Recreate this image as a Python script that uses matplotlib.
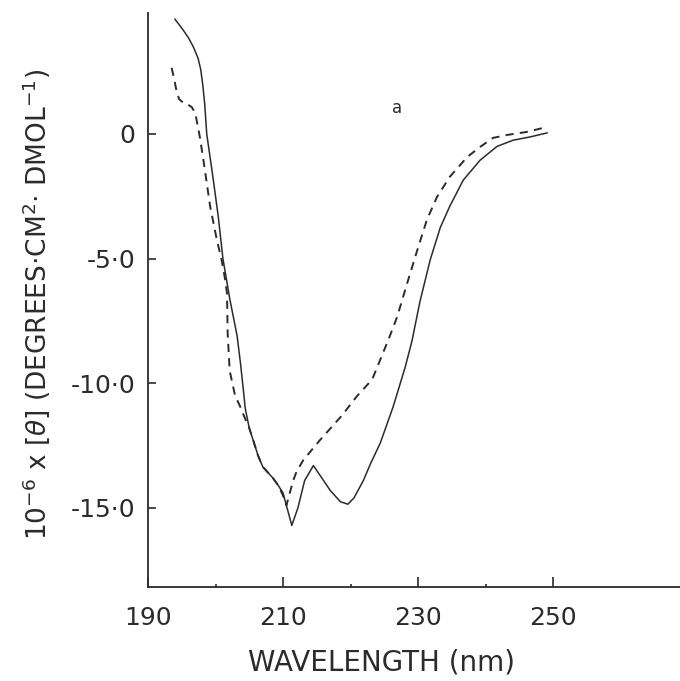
import matplotlib
matplotlib.use("Agg")
import matplotlib.pyplot as plt

# Solid curve
solid_x = [194.0, 195.2, 196.0, 196.7, 197.4, 197.8, 198.1, 198.4, 198.7, 199.6,
           200.4, 201.1, 202.1, 203.2, 203.7, 204.1, 204.4, 205.0, 205.6, 206.3,
           207.0, 208.5, 209.3, 210.0, 210.6, 211.3, 212.2, 213.2, 214.5, 215.5,
           217.0, 218.5, 219.6, 220.5, 221.9, 223.0, 224.4, 226.3, 228.1, 229.1,
           230.3, 231.8, 233.3, 234.7, 236.7, 239.2, 241.7, 244.1, 246.6, 249.1]
solid_y = [4.6, 4.17, 3.85, 3.5, 3.05, 2.6, 2.0, 1.2, 0.0, -1.7,
           -3.3, -5.0, -6.6, -8.1, -9.2, -10.2, -11.0, -11.8, -12.3, -12.9,
           -13.35, -13.8, -14.1, -14.4, -15.0, -15.7, -15.0, -13.9, -13.3, -13.7,
           -14.3, -14.75, -14.85, -14.6, -13.9, -13.2, -12.4, -10.95, -9.35, -8.3,
           -6.7, -5.05, -3.75, -2.9, -1.85, -1.05, -0.5, -0.25, -0.12, 0.04]

# Dashed curve
dash_x = [193.5, 193.8, 194.2, 194.6, 195.0, 195.8, 196.5, 197.0, 197.7, 198.4,
          199.2, 200.2, 200.9, 201.4, 201.7, 201.8, 202.1, 202.9, 203.6, 204.2,
          205.0, 205.6, 206.3, 207.0, 208.5, 209.3, 210.0, 210.5, 211.0, 211.5,
          212.0, 213.0, 215.5, 218.7, 221.0, 223.2, 225.6, 226.9, 228.4, 229.9,
          231.3, 232.8, 234.7, 237.3, 239.2, 241.1, 243.2, 246.1, 248.5]
dash_y = [2.65, 2.3, 1.76, 1.4, 1.3, 1.2, 1.07, 0.84, -0.15, -1.4,
          -2.9, -4.25, -5.05, -5.8, -6.4, -8.0, -9.5, -10.5, -10.9, -11.3,
          -11.8, -12.3, -12.9, -13.35, -13.8, -14.1, -14.5, -14.9, -14.4, -13.9,
          -13.55, -13.08, -12.27, -11.3, -10.5, -9.85, -8.26, -7.34, -5.98, -4.65,
          -3.45, -2.53, -1.72, -0.92, -0.52, -0.16, -0.04, 0.08, 0.24]

x_ticks = [190, 210, 230, 250]
x_ticklabels = ["190", "210", "230", "250"]
x_minor = [200, 220, 240]
y_ticks = [0, -5, -10, -15]
y_ticklabels = ["0", "-5·0", "-10·0", "-15·0"]

ink = "#2b2b2b"
fig = plt.figure(figsize=(6.8, 6.81), dpi=100)
ax = fig.add_axes([148/680, 94/681, 532/680, 574/681])
ax.plot(solid_x, solid_y, color=ink, lw=1.1)
ax.plot(dash_x, dash_y, color=ink, lw=1.4, linestyle=(0, (4.2, 3.2)))

ax.set_xlim(190, 268.8)
ax.set_ylim(-18.17, 4.85)
for s in ["top", "right"]:
    ax.spines[s].set_visible(False)
for s in ["left", "bottom"]:
    ax.spines[s].set_linewidth(1.3)
    ax.spines[s].set_color(ink)

ax.set_xticks(x_ticks)
ax.set_xticklabels(x_ticklabels)
ax.set_xticks(x_minor, minor=True)
ax.set_yticks(y_ticks)
ax.set_yticklabels(y_ticklabels)
ax.tick_params(axis="x", which="major", direction="in", length=7, width=1.2,
               color=ink, labelsize=18, pad=14, labelcolor=ink)
ax.tick_params(axis="x", which="minor", direction="in", length=2, width=1.2, color=ink)
ax.tick_params(axis="y", which="major", direction="in", length=6, width=1.2,
               color=ink, labelsize=18, pad=9, labelcolor=ink)

fig.text(397/680, 1 - 108/681, "a", fontsize=12, color=ink, ha="center", va="center")
fig.text(381/680, 1 - 663/681, "WAVELENGTH (nm)", fontsize=20, color=ink,
         ha="center", va="center")
fig.text(36/680, 1 - 304/681,
         r"10$^{-6}$ x [$\theta$] (DEGREES·CM$^{2}$· DMOL$^{-1}$)",
         fontsize=19, color=ink, rotation=90, ha="center", va="center")

fig.savefig("out.png", dpi=100)
